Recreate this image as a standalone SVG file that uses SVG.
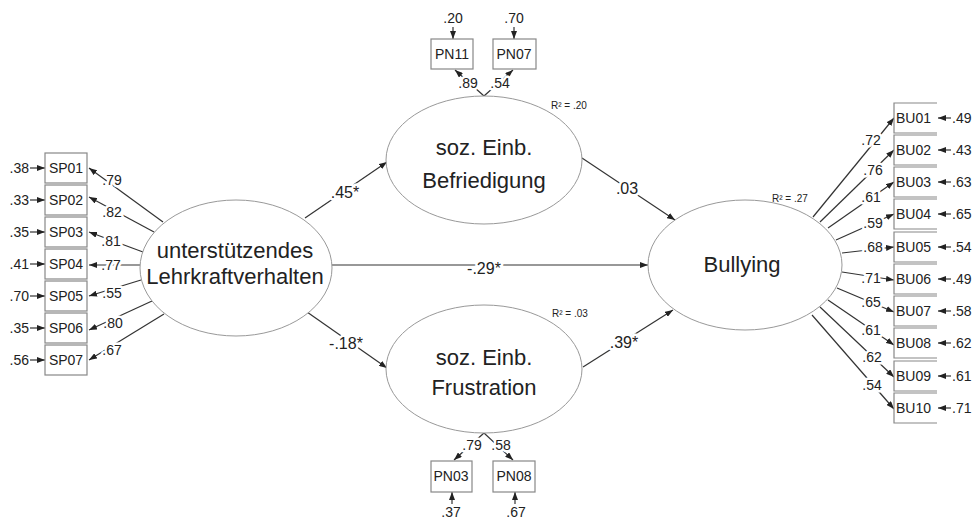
<svg xmlns="http://www.w3.org/2000/svg" width="973" height="523" viewBox="0 0 973 523">
<defs>
<marker id="ah" markerUnits="userSpaceOnUse" markerWidth="8" markerHeight="6" refX="8" refY="3" orient="auto">
<path d="M0,0 L8,3 L0,6 z" fill="#222"/>
</marker>
<style>
text{font-family:"Liberation Sans",Arial,sans-serif;fill:#222}
.big{font-size:22px;text-anchor:middle}
.sm{font-size:14px}
.mid{text-anchor:middle}
.end{text-anchor:end}
.r2{font-size:10px}
.lbl{font-size:14px;text-anchor:middle;stroke:#fff;stroke-width:5;paint-order:stroke;stroke-linejoin:round}
.pl{font-size:16px}
.ell{fill:#fff;stroke:#999;stroke-width:1}
.box{fill:#fff;stroke:#888;stroke-width:1.2}
.c{stroke:#333;stroke-width:1.2;fill:none;marker-end:url(#ah)}
</style>
</defs>
<rect width="973" height="523" fill="#fff"/>

<g id="connectors">
<!-- structural paths -->
<line class="c" x1="305" y1="218" x2="387" y2="162"/>
<line class="c" x1="307" y1="312" x2="387" y2="368"/>
<line class="c" x1="332" y1="265" x2="648" y2="265"/>
<line class="c" x1="582" y1="158" x2="675" y2="220"/>
<line class="c" x1="583" y1="367" x2="673" y2="310"/>
<!-- SP loadings -->
<line class="c" x1="163" y1="222" x2="89" y2="168"/>
<line class="c" x1="154" y1="232" x2="89" y2="197"/>
<line class="c" x1="143" y1="252" x2="89" y2="232"/>
<line class="c" x1="140" y1="265" x2="89" y2="265"/>
<line class="c" x1="141" y1="280" x2="89" y2="296"/>
<line class="c" x1="152" y1="301" x2="89" y2="330"/>
<line class="c" x1="164" y1="314" x2="89" y2="360"/>
<!-- SP errors -->
<line class="c" x1="30" y1="168" x2="45" y2="168"/>
<line class="c" x1="30" y1="200" x2="45" y2="200"/>
<line class="c" x1="30" y1="232" x2="45" y2="232"/>
<line class="c" x1="30" y1="264" x2="45" y2="264"/>
<line class="c" x1="30" y1="296" x2="45" y2="296"/>
<line class="c" x1="30" y1="328" x2="45" y2="328"/>
<line class="c" x1="30" y1="360" x2="45" y2="360"/>
<!-- PN loadings -->
<line class="c" x1="484" y1="96" x2="455" y2="70"/>
<line class="c" x1="484" y1="96" x2="513" y2="70"/>
<line class="c" x1="484" y1="433" x2="454" y2="460"/>
<line class="c" x1="484" y1="433" x2="513" y2="460"/>
<!-- PN errors -->
<line class="c" x1="453" y1="27" x2="453" y2="39"/>
<line class="c" x1="514" y1="27" x2="514" y2="39"/>
<line class="c" x1="452" y1="504" x2="452" y2="492"/>
<line class="c" x1="515" y1="504" x2="515" y2="492"/>
<!-- BU loadings -->
<line class="c" x1="813" y1="217" x2="894" y2="118"/>
<line class="c" x1="820" y1="222" x2="894" y2="150"/>
<line class="c" x1="828" y1="228" x2="894" y2="182"/>
<line class="c" x1="836" y1="240" x2="894" y2="214"/>
<line class="c" x1="842" y1="253" x2="894" y2="247"/>
<line class="c" x1="842" y1="272" x2="894" y2="280"/>
<line class="c" x1="837" y1="288" x2="894" y2="312"/>
<line class="c" x1="828" y1="300" x2="894" y2="345"/>
<line class="c" x1="820" y1="307" x2="894" y2="377"/>
<line class="c" x1="812" y1="315" x2="894" y2="409"/>
<!-- BU errors -->
<line class="c" x1="951" y1="118" x2="938" y2="118"/>
<line class="c" x1="951" y1="150" x2="938" y2="150"/>
<line class="c" x1="951" y1="182" x2="938" y2="182"/>
<line class="c" x1="951" y1="214" x2="938" y2="214"/>
<line class="c" x1="951" y1="247" x2="938" y2="247"/>
<line class="c" x1="951" y1="279" x2="938" y2="279"/>
<line class="c" x1="951" y1="311" x2="938" y2="311"/>
<line class="c" x1="951" y1="343" x2="938" y2="343"/>
<line class="c" x1="951" y1="376" x2="938" y2="376"/>
<line class="c" x1="951" y1="408" x2="938" y2="408"/>
<!-- path labels -->
<text class="lbl pl" x="345" y="198">.45*</text>
<text class="lbl pl" x="346" y="349">-.18*</text>
<text class="lbl pl" x="484" y="274">-.29*</text>
<text class="lbl pl" x="627" y="194">.03</text>
<text class="lbl pl" x="624" y="348">.39*</text>
<!-- SP loading labels -->
<text class="lbl" x="112" y="185">.79</text>
<text class="lbl" x="112" y="217">.82</text>
<text class="lbl" x="111" y="246">.81</text>
<text class="lbl" x="111" y="270">.77</text>
<text class="lbl" x="112" y="298">.55</text>
<text class="lbl" x="113" y="328">.80</text>
<text class="lbl" x="112" y="355">.67</text>
<!-- PN loading labels -->
<text class="lbl" x="468" y="88">.89</text>
<text class="lbl" x="500" y="88">.54</text>
<text class="lbl" x="472" y="450">.79</text>
<text class="lbl" x="501" y="450">.58</text>
<!-- BU loading labels -->
<text class="lbl" x="871" y="145">.72</text>
<text class="lbl" x="873" y="175">.76</text>
<text class="lbl" x="871" y="202">.61</text>
<text class="lbl" x="873" y="228">.59</text>
<text class="lbl" x="873" y="252">.68</text>
<text class="lbl" x="871" y="283">.71</text>
<text class="lbl" x="871" y="307">.65</text>
<text class="lbl" x="871" y="335">.61</text>
<text class="lbl" x="872" y="362">.62</text>
<text class="lbl" x="872" y="390">.54</text>
</g>

<g id="lehrkraft">
<ellipse class="ell" cx="236" cy="268" rx="96" ry="68"/>
<text class="big" x="235" y="258">unterstützendes</text>
<text class="big" x="235" y="284">Lehrkraftverhalten</text>
</g>
<g id="befriedigung">
<ellipse class="ell" cx="484" cy="160" rx="98" ry="64"/>
<text class="big" x="484" y="155">soz. Einb.</text>
<text class="big" x="484" y="188">Befriedigung</text>
<text class="r2" x="551" y="109">R² = .20</text>
</g>
<g id="frustration">
<ellipse class="ell" cx="484" cy="369" rx="98" ry="64"/>
<text class="big" x="484" y="365">soz. Einb.</text>
<text class="big" x="484" y="395">Frustration</text>
<text class="r2" x="552" y="317">R² = .03</text>
</g>
<g id="bullying">
<ellipse class="ell" cx="745" cy="265" rx="97" ry="65"/>
<text class="big" x="742" y="272">Bullying</text>
<text class="r2" x="772" y="202">R² = .27</text>
</g>

<g id="SP01"><rect class="box" x="45" y="153" width="42" height="30"/><text class="sm mid" x="66" y="173">SP01</text><text class="sm end" x="29" y="173">.38</text></g>
<g id="SP02"><rect class="box" x="45" y="185" width="42" height="30"/><text class="sm mid" x="66" y="205">SP02</text><text class="sm end" x="29" y="205">.33</text></g>
<g id="SP03"><rect class="box" x="45" y="217" width="42" height="30"/><text class="sm mid" x="66" y="237">SP03</text><text class="sm end" x="29" y="237">.35</text></g>
<g id="SP04"><rect class="box" x="45" y="249" width="42" height="30"/><text class="sm mid" x="66" y="269">SP04</text><text class="sm end" x="29" y="269">.41</text></g>
<g id="SP05"><rect class="box" x="45" y="281" width="42" height="30"/><text class="sm mid" x="66" y="301">SP05</text><text class="sm end" x="29" y="301">.70</text></g>
<g id="SP06"><rect class="box" x="45" y="313" width="42" height="30"/><text class="sm mid" x="66" y="333">SP06</text><text class="sm end" x="29" y="333">.35</text></g>
<g id="SP07"><rect class="box" x="45" y="345" width="42" height="30"/><text class="sm mid" x="66" y="365">SP07</text><text class="sm end" x="29" y="365">.56</text></g>

<g id="PN11"><rect class="box" x="431" y="39" width="42" height="30"/><text class="sm mid" x="452" y="59">PN11</text><text class="sm mid" x="453" y="23">.20</text></g>
<g id="PN07"><rect class="box" x="493" y="39" width="43" height="30"/><text class="sm mid" x="514" y="59">PN07</text><text class="sm mid" x="514" y="23">.70</text></g>
<g id="PN03"><rect class="box" x="431" y="461" width="41" height="31"/><text class="sm mid" x="451" y="481">PN03</text><text class="sm mid" x="451" y="517">.37</text></g>
<g id="PN08"><rect class="box" x="493" y="461" width="42" height="31"/><text class="sm mid" x="514" y="481">PN08</text><text class="sm mid" x="516" y="517">.67</text></g>

<g id="BU01"><path class="box" d="M937,103 H894 V133 H937"/><text class="sm" x="896" y="123">BU01</text><text class="sm" x="952" y="123">.49</text></g>
<g id="BU02"><path class="box" d="M937,135 H894 V165 H937"/><text class="sm" x="896" y="155">BU02</text><text class="sm" x="952" y="155">.43</text></g>
<g id="BU03"><path class="box" d="M937,167 H894 V197 H937"/><text class="sm" x="896" y="187">BU03</text><text class="sm" x="952" y="187">.63</text></g>
<g id="BU04"><path class="box" d="M937,199 H894 V229 H937"/><text class="sm" x="896" y="219">BU04</text><text class="sm" x="952" y="219">.65</text></g>
<g id="BU05"><path class="box" d="M937,232 H894 V262 H937"/><text class="sm" x="896" y="252">BU05</text><text class="sm" x="952" y="252">.54</text></g>
<g id="BU06"><path class="box" d="M937,264 H894 V294 H937"/><text class="sm" x="896" y="284">BU06</text><text class="sm" x="952" y="284">.49</text></g>
<g id="BU07"><path class="box" d="M937,296 H894 V326 H937"/><text class="sm" x="896" y="316">BU07</text><text class="sm" x="952" y="316">.58</text></g>
<g id="BU08"><path class="box" d="M937,328 H894 V358 H937"/><text class="sm" x="896" y="348">BU08</text><text class="sm" x="952" y="348">.62</text></g>
<g id="BU09"><path class="box" d="M937,361 H894 V391 H937"/><text class="sm" x="896" y="381">BU09</text><text class="sm" x="952" y="381">.61</text></g>
<g id="BU10"><path class="box" d="M937,393 H894 V423 H937"/><text class="sm" x="896" y="413">BU10</text><text class="sm" x="952" y="413">.71</text></g>
</svg>
